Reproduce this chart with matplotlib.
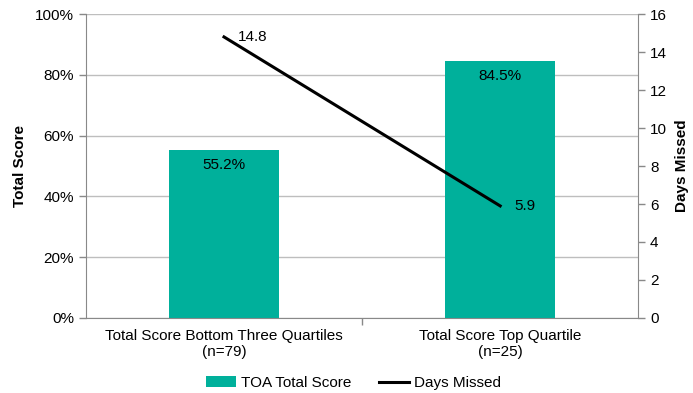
import matplotlib.pyplot as plt
import matplotlib as mpl
from matplotlib.ticker import PercentFormatter

mpl.rcParams['font.family'] = ['Liberation Sans', 'DejaVu Sans']
mpl.rcParams['font.size'] = 11

categories = ['Total Score Bottom Three Quartiles\n(n=79)', 'Total Score Top Quartile\n(n=25)']
total_score = [55.2, 84.5]
days_missed = [14.8, 5.9]

teal = '#00B09B'
spine_c = '#898989'

fig = plt.figure(figsize=(6.93, 3.93), dpi=100)
ax = fig.add_axes([0.124, 0.191, 0.797, 0.773])
ax2 = ax.twinx()

x = range(len(categories))
ax.bar(x, total_score, width=0.4, color=teal, zorder=2, label='TOA Total Score')
for xi, v in zip(x, total_score):
    ax.text(xi, v - 2.5, f'{v:.1f}%', ha='center', va='top')

ax.set_xlim(-0.5, 1.5)
ax.set_ylim(0, 100)
ax.set_yticks(range(0, 101, 20))
ax.yaxis.set_major_formatter(PercentFormatter(decimals=0))
ax.grid(axis='y', color='#BEBEBE', lw=1, zorder=0)
ax.set_axisbelow(True)
ax.set_xticks([0.5])
ax.set_xticklabels([''])
for xi, c in zip(x, categories):
    ax.text(xi, -3.8, c, ha='center', va='top', linespacing=1.15)
ax.set_ylabel('Total Score', fontweight='bold', labelpad=6)

ax2.plot(list(x), days_missed, color='black', lw=2.2, label='Days Missed', zorder=3)
ax2.text(0.05, days_missed[0], f'{days_missed[0]}', ha='left', va='center')
ax2.text(1.05, days_missed[1], f'{days_missed[1]}', ha='left', va='center')
ax2.set_ylim(0, 16)
ax2.set_yticks(range(0, 17, 2))
ax2.set_ylabel('Days Missed', fontweight='bold', labelpad=6)

for a in (ax, ax2):
    for s in a.spines.values():
        s.set_color(spine_c)
    a.spines['top'].set_visible(False)
    a.tick_params(colors=spine_c, labelcolor='black', length=5, width=1)
ax.spines['right'].set_visible(False)
ax2.spines['left'].set_visible(False)
ax2.spines['bottom'].set_visible(False)

h1, l1 = ax.get_legend_handles_labels()
h2, l2 = ax2.get_legend_handles_labels()
fig.legend(h1 + h2, l1 + l2, loc='center', bbox_to_anchor=(0.51, 0.025), ncol=2,
           frameon=False, handlelength=2.0, handleheight=0.7,
           columnspacing=1.8, handletextpad=0.3)

fig.savefig('out.png', dpi=100)
